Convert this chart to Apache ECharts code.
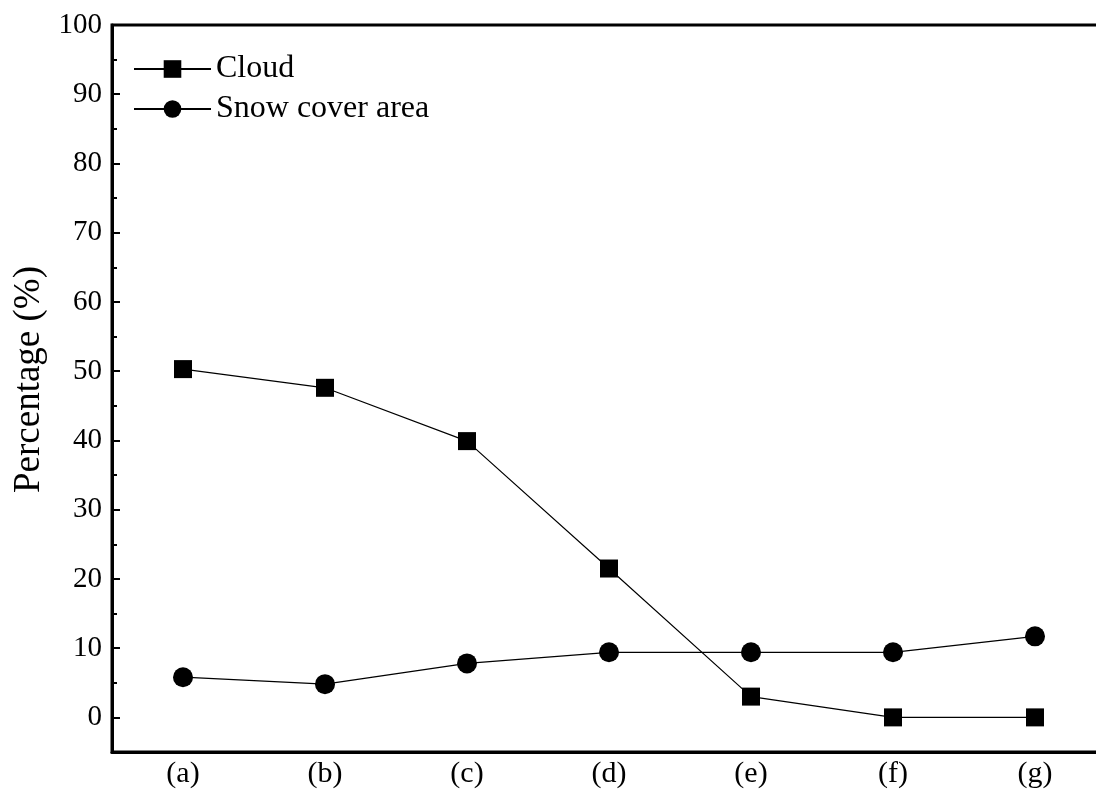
<!DOCTYPE html>
<html>
<head>
<meta charset="utf-8">
<script src="https://cdn.jsdelivr.net/npm/echarts@6/dist/echarts.min.js"></script>
<style>html,body{margin:0;padding:0;background:#fff;}#c{width:1096px;height:792px;}</style>
</head>
<body>
<div id="c"></div>
<script>
const categories = ['(a)', '(b)', '(c)', '(d)', '(e)', '(f)', '(g)'];
const cloud = [50.3, 47.6, 39.9, 21.5, 3.0, 0, 0];
const snowCover = [5.8, 4.8, 7.8, 9.4, 9.4, 9.4, 11.7];
const yMajorTicks = [0, 10, 20, 30, 40, 50, 60, 70, 80, 90, 100];
const yMinorTicks = [5, 15, 25, 35, 45, 55, 65, 75, 85, 95];

const FONT = '"Liberation Serif", "Times New Roman", serif';
const chart = echarts.init(document.getElementById('c'), null, {renderer: 'canvas'});
chart.setOption({
  animation: false,
  backgroundColor: '#fff',
  grid: {left: 112, top: 25, right: -10, bottom: 40, outerBoundsMode: 'none', containLabel: false,
         show: true, borderColor: '#000', borderWidth: 3, backgroundColor: 'transparent'},
  legend: {
    left: 128, top: 48, orient: 'vertical',
    itemWidth: 77, itemHeight: 22, itemGap: 8,
    textStyle: {fontFamily: FONT, fontSize: 32, color: '#000'},
    data: ['Cloud', 'Snow cover area']
  },
  xAxis: [
    {
      type: 'category', data: categories, boundaryGap: true, position: 'bottom',
      axisLine: {onZero: false, lineStyle: {color: '#000', width: 3}},
      axisTick: {inside: true, alignWithLabel: true, length: 9, interval: 0, lineStyle: {color: '#000', width: 2}},
      axisLabel: {fontFamily: FONT, fontSize: 30, color: '#000', margin: 7, interval: 0},
      splitLine: {show: false}
    },
    {
      type: 'category', data: categories, boundaryGap: true, position: 'bottom',
      axisLine: {show: false, onZero: false},
      axisTick: {inside: true, length: 5, interval: 0, lineStyle: {color: '#000', width: 2}},
      axisLabel: {show: false},
      splitLine: {show: false}
    }
  ],
  yAxis: [
    {
      type: 'value', min: -5, max: 100, position: 'left',
      axisLine: {show: true, onZero: false, lineStyle: {color: '#000', width: 3}},
      axisTick: {show: true, inside: true, length: 8, customValues: yMajorTicks, lineStyle: {color: '#000', width: 2}},
      axisLabel: {fontFamily: FONT, fontSize: 29, color: '#000', margin: 10, customValues: yMajorTicks},
      splitLine: {show: false},
      name: 'Percentage (%)', nameLocation: 'middle', nameGap: 62,
      nameTextStyle: {fontFamily: FONT, fontSize: 37, color: '#000', padding: [0, 0, 0, 18]}
    },
    {
      type: 'value', min: -5, max: 100, position: 'left',
      axisLine: {show: false, onZero: false},
      axisTick: {show: true, inside: true, length: 5, customValues: yMinorTicks, lineStyle: {color: '#000', width: 2}},
      axisLabel: {show: false},
      splitLine: {show: false}
    }
  ],
  series: [
    {
      name: 'Cloud', type: 'line', data: cloud, xAxisIndex: 0, yAxisIndex: 0,
      symbol: 'rect', symbolSize: 18,
      itemStyle: {color: '#000'}, lineStyle: {color: '#000', width: 1.2}
    },
    {
      name: 'Snow cover area', type: 'line', data: snowCover, xAxisIndex: 0, yAxisIndex: 0,
      symbol: 'circle', symbolSize: 20,
      itemStyle: {color: '#000'}, lineStyle: {color: '#000', width: 1.2}
    }
  ]
});
</script>
</body>
</html>
